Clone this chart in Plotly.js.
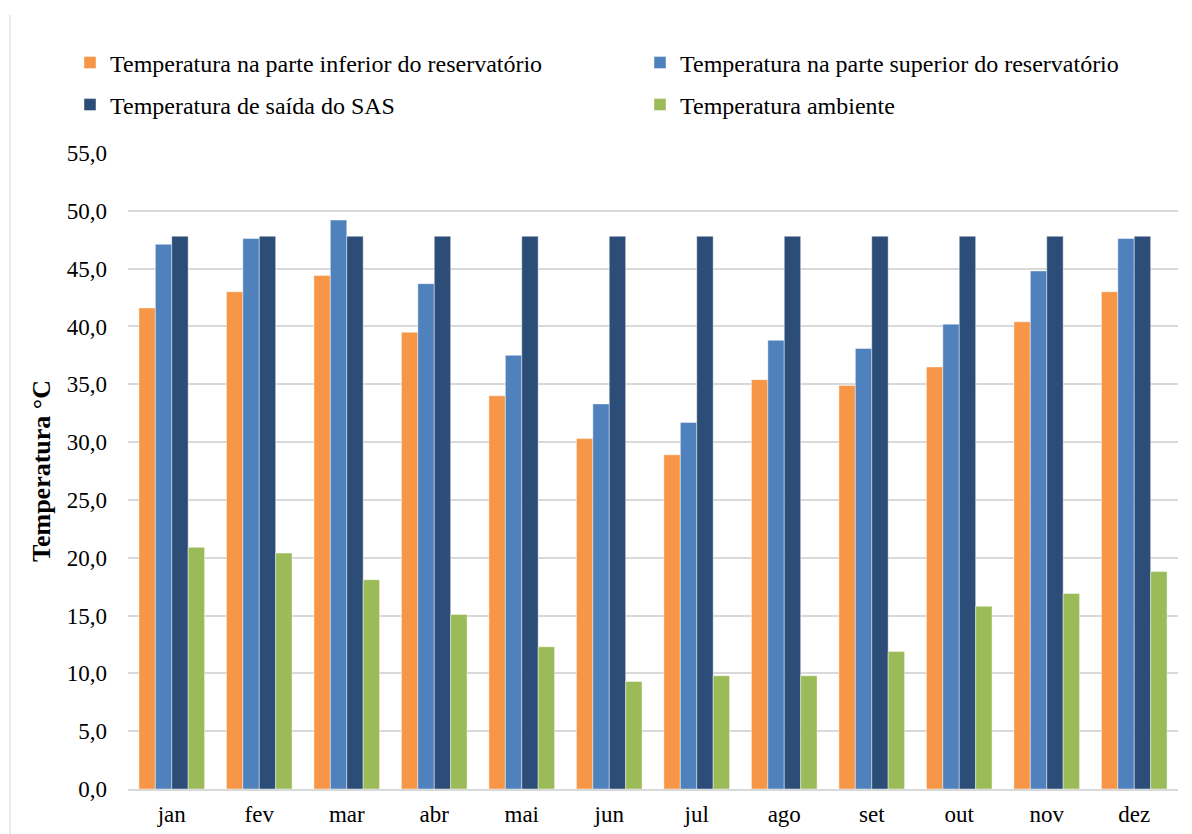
<!DOCTYPE html>
<html>
<head>
<meta charset="utf-8">
<script src="https://cdn.plot.ly/plotly-3.0.1.min.js"></script>
<style>html,body{margin:0;padding:0;background:#fff;}#chart{width:1192px;height:834px;}</style>
</head>
<body>
<div id="chart"></div>
<script>
const months = ["jan","fev","mar","abr","mai","jun","jul","ago","set","out","nov","dez"];
const inferior = [41.6, 43.0, 44.4, 39.5, 34.0, 30.3, 28.9, 35.4, 34.9, 36.5, 40.4, 43.0];
const superior = [47.1, 47.6, 49.2, 43.7, 37.5, 33.3, 31.7, 38.8, 38.1, 40.2, 44.8, 47.6];
const saidaSAS = [47.8, 47.8, 47.8, 47.8, 47.8, 47.8, 47.8, 47.8, 47.8, 47.8, 47.8, 47.8];
const ambiente = [20.9, 20.4, 18.1, 15.1, 12.3, 9.3, 9.8, 9.8, 11.9, 15.8, 16.9, 18.8];
const seriesNames = [
  "Temperatura na parte inferior do reservatório",
  "Temperatura na parte superior do reservatório",
  "Temperatura de saída do SAS",
  "Temperatura ambiente"
];
const yTicks = [0,5,10,15,20,25,30,35,40,45,50,55];
const yTickText = yTicks.map(v => v.toFixed(1).replace('.', ','));

const colors = ["#F79646", "#4F81BD", "#2C4D77", "#9BBB59"];
const values = [inferior, superior, saidaSAS, ambiente];
const legendIds = ["legend", "legend2", "legend3", "legend4"];

const traces = values.map((v, i) => ({
  type: "bar",
  x: months,
  y: v,
  name: seriesNames[i],
  legend: legendIds[i],
  marker: {color: colors[i], line: {color: "rgba(255,255,255,0.55)", width: 0.8}},
  hoverinfo: "x+y+name"
}));

const font = "Liberation Serif, Times New Roman, serif";
function legendAt(xpx, ypx) {
  return {
    orientation: "h",
    xref: "container", yref: "container",
    xanchor: "left", yanchor: "middle",
    x: xpx / 1192, y: 1 - ypx / 834,
    font: {family: font, size: 24, color: "#000"},
    bgcolor: "rgba(0,0,0,0)", borderwidth: 0,
    itemclick: false, itemdoubleclick: false
  };
}

const layout = {
  width: 1192, height: 834,
  paper_bgcolor: "#fff", plot_bgcolor: "#fff",
  margin: {l: 128, r: 14, t: 153, b: 45},
  barmode: "group",
  bargap: 0.25,
  bargroupgap: 0,
  showlegend: true,
  legend: legendAt(70, 63),
  legend2: legendAt(640, 63),
  legend3: legendAt(70, 105),
  legend4: legendAt(640, 105),
  xaxis: {
    type: "category",
    showgrid: false,
    showline: true, linecolor: "#d9d9d9", linewidth: 2,
    ticks: "",
    ticklabelstandoff: 3,
    tickfont: {family: font, size: 23, color: "#000"},
    fixedrange: true
  },
  yaxis: {
    range: [0, 55],
    tickvals: yTicks,
    ticktext: yTickText,
    showgrid: true, gridcolor: "#d9d9d9", gridwidth: 2,
    zeroline: false,
    showline: false,
    ticks: "",
    ticklabelstandoff: 20,
    tickfont: {family: font, size: 23, color: "#000"},
    title: {text: "Temperatura °C", font: {family: font, size: 26, color: "#000", weight: "bold"}, standoff: 8},
    fixedrange: true
  },
  shapes: [{
    type: "line", xref: "paper", yref: "paper",
    x0: -118/1050, x1: -118/1050, y0: -45/636, y1: 1 + 138/636,
    line: {color: "#d9d9d9", width: 1}
  }]
};

Plotly.newPlot("chart", traces, layout, {displayModeBar: false, staticPlot: false});
</script>
</body>
</html>
